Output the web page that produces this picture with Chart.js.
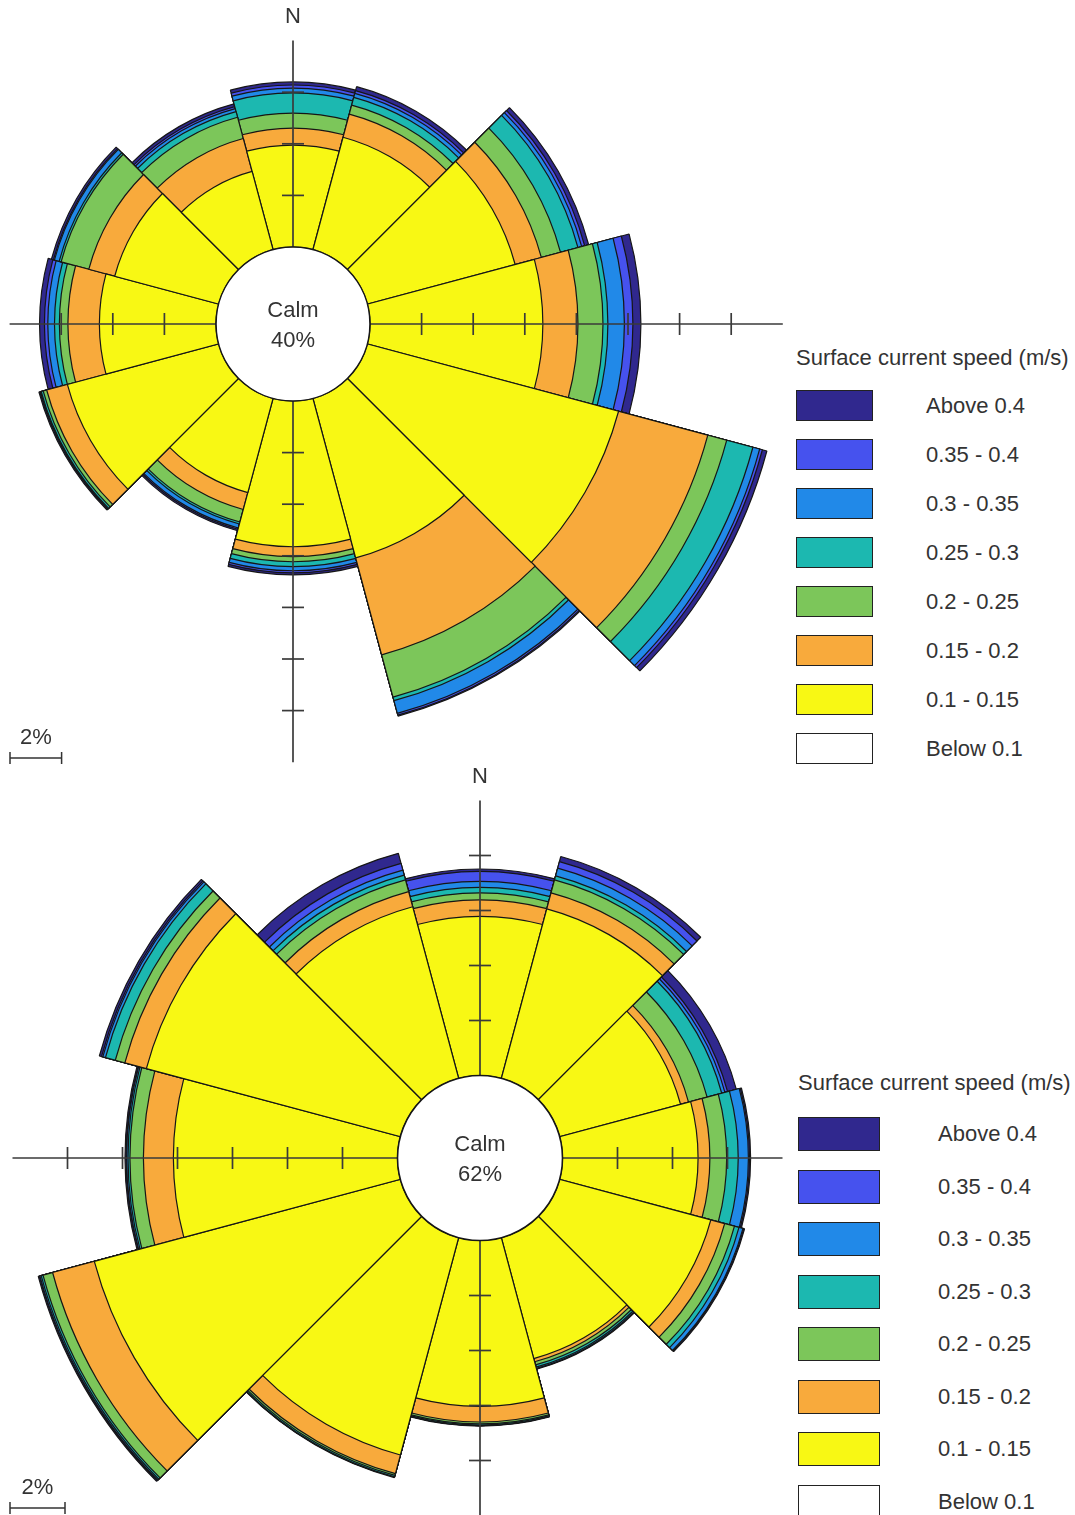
<!DOCTYPE html>
<html>
<head>
<meta charset="utf-8">
<title>Surface current roses</title>
<script src="https://cdn.jsdelivr.net/npm/chart.js@4.4.0/dist/chart.umd.min.js"></script>
<style>
  body { margin: 0; background: #fff; }
  #page { position: relative; width: 1075px; height: 1515px; overflow: hidden;
          font-family: "Liberation Sans", Arial, sans-serif; color: #333; }
  canvas { position: absolute; left: 0; }
  .lg-title, .lg-label { position: absolute; white-space: nowrap; font-size: 22px; }
  .lg-box { position: absolute; box-sizing: border-box; border: 1.5px solid #222; }
</style>
</head>
<body>
<div id="page">
  <canvas id="roseTop" width="790" height="765" style="top:0"></canvas>
  <canvas id="roseBottom" width="790" height="750" style="top:765px"></canvas>
</div>
<script>
// 30° direction sectors, clockwise from north
const sectorLabels = ['0°', '30°', '60°', '90°', '120°', '150°', '180°', '210°', '240°', '270°', '300°', '330°'];
const speedClasses = ['Below 0.1', '0.1 - 0.15', '0.15 - 0.2', '0.2 - 0.25', '0.25 - 0.3', '0.3 - 0.35', '0.35 - 0.4', 'Above 0.4'];
const classColors = ['#ffffff', '#f8f814', '#f8aa3c', '#7cc65a', '#1cb8b0', '#2189e8', '#4652ee', '#30288e'];

// upper rose: occurrence (%) of each speed class per sector
const topCalm = 40;
const topBelow010 = [0, 0, 0, 0, 0, 0, 0, 0, 0, 0, 0, 0];
const top010_015 = [3.95, 4.51, 5.93, 6.70, 10.08, 6.40, 5.65, 3.78, 6.07, 4.52, 4.17, 3.14];
const top015_020 = [0.66, 0.93, 1.05, 1.36, 3.58, 3.89, 0.38, 0.68, 0.83, 1.22, 1.04, 1.32];
const top020_025 = [0.58, 0.36, 0.77, 0.97, 0.76, 1.70, 0.20, 0.50, 0.14, 0.33, 1.11, 0.85];
const top025_030 = [0.78, 0.31, 0.70, 0.19, 1.05, 0.14, 0.19, 0.08, 0.08, 0.19, 0.08, 0.23];
const top030_035 = [0.19, 0.16, 0.15, 0.64, 0.27, 0.51, 0.16, 0.16, 0.03, 0.26, 0.19, 0.12];
const top035_040 = [0.12, 0.11, 0.12, 0.33, 0.11, 0.07, 0.08, 0.05, 0.02, 0.13, 0.04, 0.08];
const topAbove040 = [0.12, 0.16, 0.16, 0.31, 0.18, 0.04, 0.08, 0.06, 0.04, 0.19, 0.08, 0.11];

// lower rose
const botCalm = 62;
const botBelow010 = [0, 0, 0, 0, 0, 0, 0, 0, 0, 0, 0, 0];
const bot010_015 = [5.79, 6.38, 4.55, 4.93, 5.69, 4.55, 6.03, 8.18, 11.52, 8.15, 9.56, 6.46];
const bot015_020 = [0.60, 0.60, 0.30, 0.43, 0.52, 0.12, 0.57, 0.70, 1.57, 1.09, 0.81, 0.57];
const bot020_025 = [0.25, 0.49, 0.70, 0.61, 0.37, 0.12, 0.07, 0.07, 0.36, 0.49, 0.36, 0.44];
const bot025_030 = [0.20, 0.15, 0.55, 0.42, 0.17, 0.08, 0.04, 0.05, 0.07, 0.07, 0.37, 0.18];
const bot030_035 = [0.22, 0.29, 0.12, 0.37, 0.15, 0.05, 0.02, 0.01, 0.05, 0.05, 0.10, 0.19];
const bot035_040 = [0.36, 0.25, 0.10, 0.04, 0.03, 0.00, 0.00, 0.00, 0.02, 0.02, 0.05, 0.25];
const botAbove040 = [0.09, 0.19, 0.33, 0.04, 0.03, 0.03, 0.02, 0.02, 0.04, 0.04, 0.08, 0.38];

const FONT = '22px "Liberation Sans", Arial, sans-serif';

// polar area arcs all start at the centre, so each class is drawn as a running total;
// dataset 0 is painted last and ends up on top
function stackBands(bands) {
  const run = sectorLabels.map(() => 0);
  return bands.map((vals, k) => {
    vals.forEach((v, i) => { run[i] += v; });
    return {
      label: speedClasses[k],
      data: run.slice(),
      backgroundColor: classColors[k],
      borderColor: '#161616',
      borderWidth: 1.2,
      clip: false
    };
  });
}

// compass cross with 2% ticks, calm disc, north mark and scale bar
const roseDecor = {
  id: 'roseDecor',
  afterDatasetsDraw(chart, args, opts) {
    const s = chart.scales.r;
    const ctx = chart.ctx;
    const cx = s.xCenter, cy = s.yCenter;
    const rad = v => s.getDistanceFromCenterForValue(v);
    const dirs = [['up', 0, -1], ['right', 1, 0], ['down', 0, 1], ['left', -1, 0]];

    ctx.save();
    ctx.strokeStyle = '#3a3a3a';
    ctx.lineWidth = 1.7;
    dirs.forEach(([key, dx, dy]) => {
      const reach = opts.reach[key];
      ctx.beginPath();
      ctx.moveTo(cx + dx * rad(0), cy + dy * rad(0));
      ctx.lineTo(cx + dx * rad(reach), cy + dy * rad(reach));
      ctx.stroke();
      for (let v = 2; v < reach; v += 2) {
        const px = cx + dx * rad(v), py = cy + dy * rad(v);
        ctx.beginPath();
        ctx.moveTo(px - dy * 11, py - dx * 11);
        ctx.lineTo(px + dy * 11, py + dx * 11);
        ctx.stroke();
      }
    });

    // calm disc
    ctx.beginPath();
    ctx.arc(cx, cy, rad(0), 0, Math.PI * 2);
    ctx.fillStyle = '#ffffff';
    ctx.fill();
    ctx.strokeStyle = '#161616';
    ctx.lineWidth = 1.6;
    ctx.stroke();

    ctx.fillStyle = '#333';
    ctx.font = FONT;
    ctx.textAlign = 'center';
    ctx.textBaseline = 'middle';
    ctx.fillText('Calm', cx, cy - 13);
    ctx.fillText(opts.calm + '%', cx, cy + 17);
    ctx.fillText('N', cx, cy - rad(opts.reach.up) - 24);

    // 2% scale bar
    const len = rad(2) - rad(0);
    const by = chart.height - 7;
    ctx.strokeStyle = '#333';
    ctx.lineWidth = 1.5;
    ctx.beginPath();
    ctx.moveTo(10, by); ctx.lineTo(10 + len, by);
    ctx.moveTo(10, by - 6); ctx.lineTo(10, by + 6);
    ctx.moveTo(10 + len, by - 6); ctx.lineTo(10 + len, by + 6);
    ctx.stroke();
    ctx.fillText('2%', 10 + len / 2, by - 20);
    ctx.restore();
  }
};

function makeRose(canvasId, bands, cfg) {
  const canvas = document.getElementById(canvasId);
  const half = cfg.half;
  return new Chart(canvas, {
    type: 'polarArea',
    data: { labels: sectorLabels, datasets: stackBands(bands) },
    options: {
      responsive: false,
      animation: false,
      events: [],
      layout: {
        padding: {
          left: cfg.cx - half,
          top: cfg.cy - half,
          right: canvas.width - cfg.cx - half,
          bottom: canvas.height - cfg.cy - half
        }
      },
      scales: {
        r: {
          display: false,
          startAngle: -15,
          min: -cfg.calmRadius / cfg.pxPerPct,
          max: (half - cfg.calmRadius) / cfg.pxPerPct
        }
      },
      plugins: {
        legend: { display: false },
        tooltip: { enabled: false },
        roseDecor: { calm: cfg.calm, reach: cfg.reach }
      }
    },
    plugins: [roseDecor]
  });
}

function buildLegend(L) {
  const page = document.getElementById('page');
  const title = document.createElement('div');
  title.className = 'lg-title';
  title.textContent = 'Surface current speed (m/s)';
  title.style.left = L.left + 'px';
  title.style.top = (L.titleY - 12) + 'px';
  title.style.lineHeight = '24px';
  page.appendChild(title);
  speedClasses.slice().reverse().forEach((name, i) => {
    const k = speedClasses.length - 1 - i;
    const y = L.top + i * L.step;
    const box = document.createElement('div');
    box.className = 'lg-box';
    Object.assign(box.style, {
      left: L.left + 'px', top: y + 'px', width: L.w + 'px', height: L.h + 'px',
      background: classColors[k]
    });
    const lab = document.createElement('div');
    lab.className = 'lg-label';
    lab.textContent = name;
    Object.assign(lab.style, { left: L.labelX + 'px', top: y + 'px', lineHeight: L.h + 'px' });
    page.appendChild(box);
    page.appendChild(lab);
  });
}

makeRose('roseTop',
  [topBelow010, top010_015, top015_020, top020_025, top025_030, top030_035, top035_040, topAbove040],
  { cx: 293, cy: 324, half: 290, calmRadius: 77, pxPerPct: 25.8, calm: topCalm,
    reach: { up: 8, right: 16, down: 14, left: 8 } });

makeRose('roseBottom',
  [botBelow010, bot010_015, bot015_020, bot020_025, bot025_030, bot030_035, bot035_040, botAbove040],
  { cx: 480, cy: 393, half: 300, calmRadius: 82.5, pxPerPct: 27.5, calm: botCalm,
    reach: { up: 10, right: 8, down: 10, left: 14 } });

buildLegend({ left: 796, titleY: 358, top: 390, step: 49, w: 77, h: 31, labelX: 926 });
buildLegend({ left: 798, titleY: 1083, top: 1117, step: 52.5, w: 82, h: 34, labelX: 938 });
</script>
</body>
</html>
